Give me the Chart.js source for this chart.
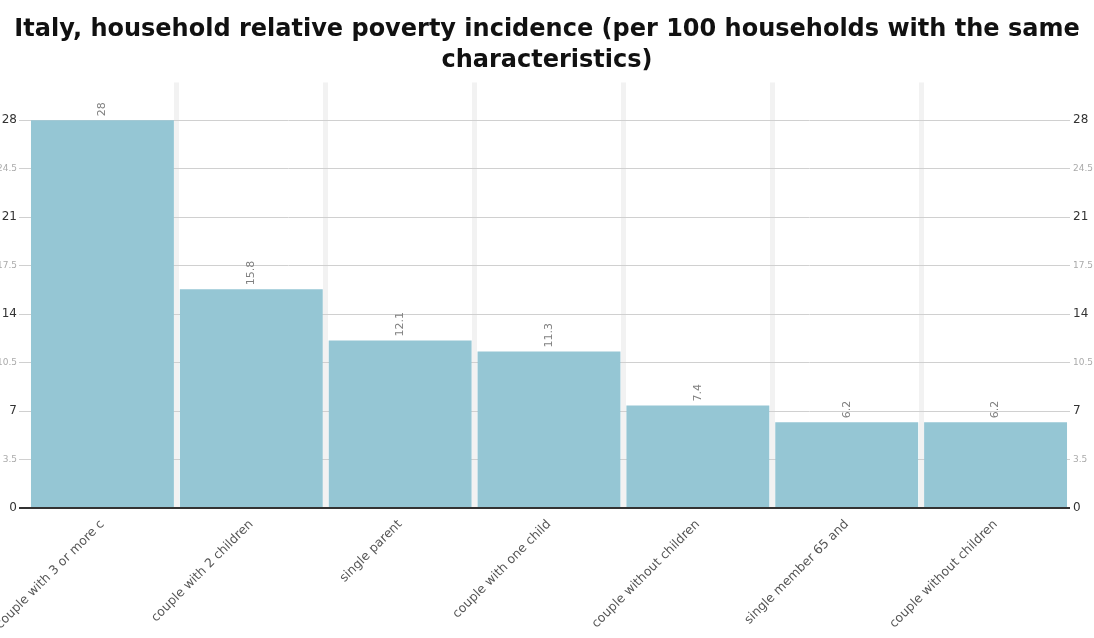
<!DOCTYPE html>
<html lang="en">
  <head>
    <meta charset="UTF-8" />
    <title>Italy, household relative poverty incidence</title>
    <script src="https://cdn.jsdelivr.net/npm/chart.js"></script>
    <style>
      body {
        margin: 0;
        background: #fff;
        font-family: "DejaVu Sans", sans-serif;
      }
      .wrap {
        width: 1094px;
        height: 638px;
        position: relative;
      }
    </style>
  </head>
  <body>
    <div class="wrap">
      <canvas id="chart"></canvas>
    </div>

    <script>
      const categories = [
        "couple with 3 or more c",
        "couple with 2 children",
        "single parent",
        "couple with one child",
        "couple without children",
        "single member 65 and",
        "couple without children",
      ];
      const incidence = [28, 15.8, 12.1, 11.3, 7.4, 6.2, 6.2];
      const titleLines = [
        "Italy, household relative poverty incidence (per 100 households with the same",
        "characteristics)",
      ];

      const yMin = 0;
      const yMax = 30.74;
      const yStep = 3.5;

      // value labels above the bars, rotated
      const valueLabels = {
        id: "valueLabels",
        afterDatasetsDraw(chart) {
          const c = chart.ctx;
          const meta = chart.getDatasetMeta(0);
          c.save();
          c.font = "11px 'DejaVu Sans', sans-serif";
          c.fillStyle = "#808080";
          c.textAlign = "left";
          c.textBaseline = "middle";
          meta.data.forEach((bar, i) => {
            c.save();
            c.translate(bar.x, bar.y - 4);
            c.rotate(-Math.PI / 2);
            c.fillText(String(incidence[i]), 0, 0);
            c.restore();
          });
          c.restore();
        },
      };

      const tickVal = (ctx) => (ctx && ctx.tick ? ctx.tick.value : null);
      const isMajor = (ctx) => {
        const v = tickVal(ctx);
        return v === null || Math.abs(v % 7) < 1e-9;
      };
      const isZero = (ctx) => tickVal(ctx) === 0;

      const yAxis = (position, width, tickLen, pad) => ({
        position: position,
        min: yMin,
        max: yMax,
        border: { display: false },
        afterFit: (scale) => {
          scale.width = width;
        },
        grid: {
          drawOnChartArea: position === "left",
          color: (ctx) => (isZero(ctx) ? "#333" : "#d0d0d0"),
          lineWidth: (ctx) => (isZero(ctx) ? 2 : 1),
          tickColor: (ctx) => (isZero(ctx) ? "#333" : "#d0d0d0"),
          tickLength: tickLen,
        },
        ticks: {
          stepSize: yStep,
          includeBounds: false,
          padding: pad,
          color: (ctx) => (isMajor(ctx) ? "#333" : "#aaa"),
          font: (ctx) =>
            isMajor(ctx)
              ? { size: 12, family: "'DejaVu Sans', sans-serif" }
              : { size: 9, family: "'DejaVu Sans', sans-serif" },
        },
      });

      new Chart(document.getElementById("chart"), {
        type: "bar",
        data: {
          labels: categories,
          datasets: [
            {
              data: incidence,
              backgroundColor: "#95c6d4",
              borderWidth: 0,
              categoryPercentage: 1,
              barPercentage: 0.96,
            },
          ],
        },
        options: {
          responsive: true,
          maintainAspectRatio: false,
          animation: false,
          layout: { padding: 0 },
          plugins: {
            legend: { display: false },
            tooltip: { enabled: false },
            title: {
              display: true,
              text: titleLines,
              color: "#111",
              font: { size: 24, weight: "bold", family: "'DejaVu Sans', sans-serif", lineHeight: 1.3 },
              padding: { top: 14, bottom: 6 },
            },
          },
          scales: {
            x: {
              border: { display: false },
              afterFit: (scale) => {
                // labels are allowed to run off the canvas, as in the source
                scale.height = 130;
                scale.paddingLeft = 0;
                scale.paddingRight = 0;
              },
              grid: {
                offset: true,
                lineWidth: 5,
                color: (ctx) =>
                  ctx.type !== "tick" || ctx.index === 0 ? "rgba(0,0,0,0)" : "#f2f2f2",
                drawTicks: false,
              },
              ticks: {
                maxRotation: 45,
                minRotation: 45,
                autoSkip: false,
                color: "#555",
                padding: 9,
                font: { size: 12.5, family: "'DejaVu Sans', sans-serif" },
              },
            },
            y: yAxis("left", 28, 9, 2),
            y2: yAxis("right", 24, 0, 3),
          },
        },
        plugins: [valueLabels],
      });
    </script>
  </body>
</html>
